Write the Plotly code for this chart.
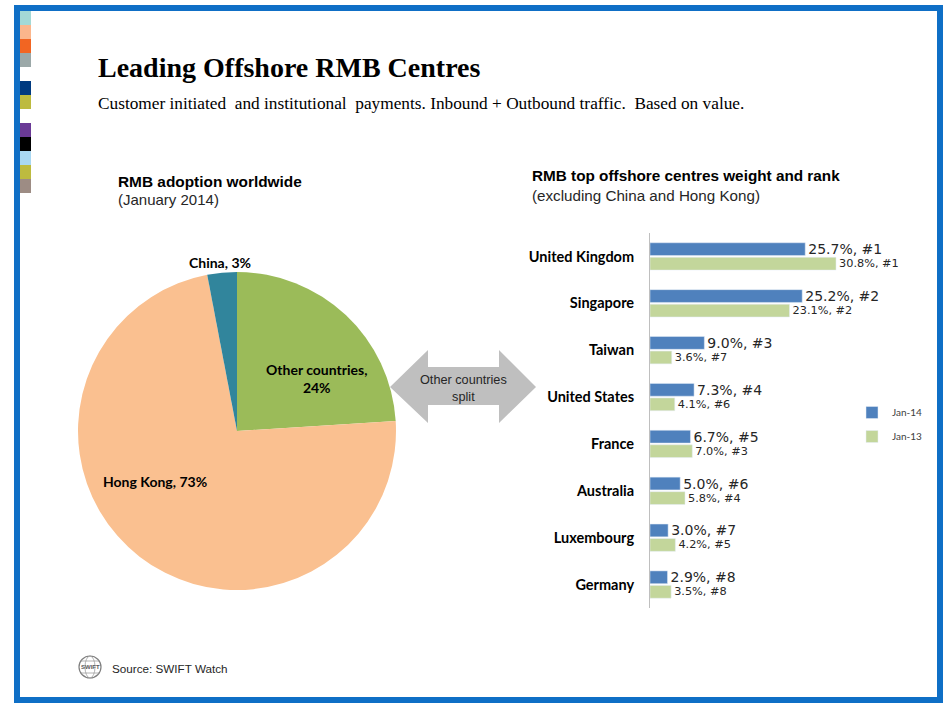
import plotly.graph_objects as go

W, H = 947, 703

# pie data
pie_labels = ["Other countries", "Hong Kong", "China"]
pie_values = [24, 73, 3]
pie_colors = ["#9BBB59", "#FAC090", "#31859C"]

# bar data
centres = ["United Kingdom", "Singapore", "Taiwan", "United States",
           "France", "Australia", "Luxembourg", "Germany"]
jan14 = [25.7, 25.2, 9.0, 7.3, 6.7, 5.0, 3.0, 2.9]
jan14_rank = [1, 2, 3, 4, 5, 6, 7, 8]
jan13 = [30.8, 23.1, 3.6, 4.1, 7.0, 5.8, 4.2, 3.5]
jan13_rank = [1, 2, 7, 6, 3, 4, 5, 8]

# left colour strip
strip_colors = ["#A3D9D6", "#FBB68C", "#F26522", "#9BA8A8", None, "#003A80", "#BDBB3F",
                None, "#6A3A96", "#000000", "#A9D8F2", "#BDBB3F", "#9D8C84"]


def px(x):
    return x / W


def py(y):
    return 1 - y / H


CAL = "Lato, Calibri, sans-serif"
LBL = "DejaVu Sans, Calibri, sans-serif"
ARIAL = "Liberation Sans, Arial, sans-serif"
SERIF = "Liberation Serif, Times New Roman, serif"

fig = go.Figure()

fig.add_trace(go.Pie(
    labels=pie_labels, values=pie_values,
    marker=dict(colors=pie_colors, line=dict(width=0)),
    sort=False, direction="clockwise", rotation=0,
    textinfo="none", showlegend=False, hoverinfo="label+percent",
    domain=dict(x=[px(78), px(396)], y=[py(590), py(272)]),
))

fig.add_trace(go.Bar(
    name="Jan-14", y=centres, x=jan14, orientation="h",
    marker_color="#4F81BD", legendgroup="a",
    text=[f"{v:.1f}%, #{r}" for v, r in zip(jan14, jan14_rank)],
    textposition="outside", cliponaxis=False, constraintext="none",
    textfont=dict(family=LBL, size=14, color="#262626"),
))
fig.add_trace(go.Bar(
    name="Jan-13", y=centres, x=jan13, orientation="h",
    marker_color="#C3D69B", legendgroup="b",
    text=[f"{v:.1f}%, #{r}" for v, r in zip(jan13, jan13_rank)],
    textposition="outside", cliponaxis=False, constraintext="none",
    textfont=dict(family=LBL, size=11.3, color="#262626"),
))

fig.update_layout(
    width=W, height=H,
    margin=dict(l=0, r=0, t=0, b=0),
    paper_bgcolor="white", plot_bgcolor="white",
    barmode="group", bargap=0.38, bargroupgap=0.12,
    xaxis=dict(domain=[px(650), px(900)], range=[0, 250 / 6.04],
               visible=False, fixedrange=True),
    yaxis=dict(domain=[py(608), py(233)], autorange="reversed",
               showline=True, linecolor="#BFBFBF", linewidth=1,
               ticks="", showgrid=False, ticklabelstandoff=12,
               tickfont=dict(family=CAL, size=14.5, color="#000000", weight="bold")),
    legend=dict(x=px(852), y=py(398), xanchor="left", yanchor="top",
                font=dict(family=CAL, size=10, color="#404040"),
                traceorder="grouped", itemwidth=30, tracegroupgap=5),
    showlegend=True,
)

shapes = []
# blue frame
shapes.append(dict(type="rect", xref="paper", yref="paper",
                   x0=px(17), x1=px(940), y0=py(700), y1=py(8),
                   line=dict(color="#0F6FC6", width=6)))
# colour strip
for i, c in enumerate(strip_colors):
    if c is None:
        continue
    y0 = 11 + i * 14
    shapes.append(dict(type="rect", xref="paper", yref="paper",
                       x0=px(20), x1=px(31), y0=py(y0 + 14), y1=py(y0),
                       fillcolor=c, line=dict(width=0)))
# double arrow
ax = [390, 428, 428, 499, 499, 536, 499, 499, 428, 428]
ay = [387, 350, 367, 367, 350, 387, 423, 405, 405, 423]
path = "M " + " L ".join(f"{px(a)},{py(b)}" for a, b in zip(ax, ay)) + " Z"
shapes.append(dict(type="path", xref="paper", yref="paper", path=path,
                   fillcolor="#BFBFBF", line=dict(width=0)))
# swift globe
shapes.append(dict(type="circle", xref="paper", yref="paper",
                   x0=px(79), x1=px(101), y0=py(678), y1=py(656),
                   line=dict(color="#7F7F7F", width=1.2)))
shapes.append(dict(type="circle", xref="paper", yref="paper",
                   x0=px(85), x1=px(95), y0=py(678), y1=py(656),
                   line=dict(color="#9F9F9F", width=0.8)))
for yy in [661, 673]:
    shapes.append(dict(type="line", xref="paper", yref="paper",
                       x0=px(81), x1=px(99), y0=py(yy), y1=py(yy),
                       line=dict(color="#9F9F9F", width=0.8)))
fig.update_layout(shapes=shapes)


def note(x, y, text, size, family=ARIAL, bold=False, xanchor="left", color="#000000", align="left"):
    fig.add_annotation(x=px(x), y=py(y), xref="paper", yref="paper", text=text,
                       showarrow=False, xanchor=xanchor, yanchor="middle", align=align,
                       font=dict(family=family, size=size, color=color,
                                 weight="bold" if bold else "normal"))


note(96, 68, "Leading Offshore RMB Centres", 28, SERIF, bold=True)
note(96, 104, "Customer initiated  and institutional  payments. Inbound + Outbound traffic.  Based on value.",
     17.3, SERIF)
note(116, 181, "RMB adoption worldwide", 15.4, bold=True)
note(116, 199, "(January 2014)", 15, color="#262626")
note(530, 176, "RMB top offshore centres weight and rank", 15.3, bold=True)
note(530, 195, "(excluding China and Hong Kong)", 15.2, color="#262626")

note(220, 262, "China, 3%", 14, CAL, bold=True, xanchor="center")
note(316, 378, "Other countries,<br>24%", 14, CAL, bold=True, xanchor="center", align="center")
note(155, 481, "Hong Kong, 73%", 14, CAL, bold=True, xanchor="center")

note(463, 388, "Other countries<br>split", 12.7, xanchor="center", align="center", color="#262626")

note(90, 667, "SWIFT", 6, bold=True, xanchor="center", color="#595959")
note(110, 668, "Source: SWIFT Watch", 11.7, color="#262626")

fig.write_html("out.html", config={"displayModeBar": False},
               post_script="document.body.style.margin='0';document.body.style.overflow='hidden';")
